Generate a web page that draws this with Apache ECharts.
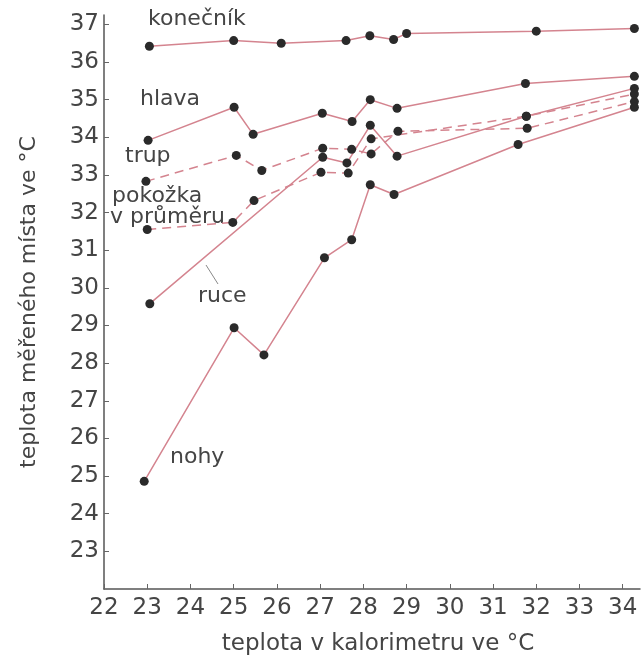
<!DOCTYPE html>
<html>
<head>
<meta charset="utf-8">
<script src="https://cdn.jsdelivr.net/npm/echarts@6/dist/echarts.min.js"></script>
<style>html,body{margin:0;padding:0;background:#fff;}#c{width:643px;height:666px;}</style>
</head>
<body>
<div id="c"></div>
<script>
// Data
const konecnikX = [23.05, 25.0, 26.1, 27.6, 28.15, 28.7, 29.0, 32.0, 34.27];
const konecnikY = [36.42, 36.57, 36.5, 36.57, 36.7, 36.6, 36.76, 36.82, 36.89];

const hlavaX = [23.02, 25.01, 25.45, 27.05, 27.74, 28.16, 28.78, 31.75, 34.27];
const hlavaY = [33.92, 34.8, 34.08, 34.64, 34.42, 35.0, 34.77, 35.43, 35.62];

const trupX = [22.97, 25.06, 25.65, 27.06, 27.73, 28.18, 28.8, 31.79, 34.27];
const trupY = [32.83, 33.52, 33.12, 33.71, 33.68, 33.56, 34.16, 34.24, 34.95];

const pokozkaX = [23.0, 24.98, 25.47, 27.02, 27.65, 28.18, 31.77, 34.27];
const pokozkaY = [31.55, 31.74, 32.32, 33.07, 33.05, 33.96, 34.56, 35.15];

const ruceX = [23.06, 27.06, 27.62, 28.16, 28.78, 31.77, 34.27];
const ruceY = [29.58, 33.47, 33.32, 34.32, 33.5, 34.56, 35.3];

const nohyX = [22.93, 25.01, 25.7, 27.1, 27.73, 28.16, 28.71, 31.58, 34.27];
const nohyY = [24.86, 28.94, 28.22, 30.8, 31.28, 32.74, 32.48, 33.81, 34.8];

const seriesNames = ['konečník', 'hlava', 'trup', 'pokožka v průměru', 'ruce', 'nohy'];
const xTitle = 'teplota v kalorimetru ve °C';
const yTitle = 'teplota měřeného místa ve °C';

const pairs = (xs, ys) => xs.map((x, i) => [x, ys[i]]);
const LINE = '#d4848f';
const DOT = '#2a2a2a';
const TXT = '#454545';
const FONT = 'DejaVu Sans';

function mk(name, xs, ys, dashed) {
  return {
    name: name, type: 'line', data: pairs(xs, ys),
    symbol: 'circle', symbolSize: 9,
    itemStyle: { color: DOT },
    lineStyle: { color: LINE, width: 1.5, type: dashed ? [9, 6] : 'solid' },
    emphasis: { disabled: true }, animation: false
  };
}

const chart = echarts.init(document.getElementById('c'));
chart.setOption({
  animation: false,
  grid: { left: 104, right: 3, top: 15, bottom: 77 },
  xAxis: {
    type: 'value', min: 22, max: 34.4, interval: 1,
    name: xTitle, nameLocation: 'middle', nameGap: 44,
    nameTextStyle: { fontFamily: FONT, fontSize: 23, color: TXT, padding: [0, 0, 0, 12] },
    axisLine: { lineStyle: { color: '#555', width: 1.5 } },
    axisTick: { inside: true, length: 5, lineStyle: { color: '#666' } },
    axisLabel: { fontFamily: FONT, fontSize: 23, color: TXT, margin: 8, showMaxLabel: false },
    splitLine: { show: false }
  },
  yAxis: {
    type: 'value', min: 22, max: 37.25, interval: 1,
    name: yTitle, nameLocation: 'middle', nameGap: 64, nameRotate: 90,
    nameTextStyle: { fontFamily: FONT, fontSize: 22, color: TXT },
    axisLine: { show: true, lineStyle: { color: '#555', width: 1.5 } },
    axisTick: { show: true, inside: true, length: 5, lineStyle: { color: '#666' } },
    axisLabel: { fontFamily: FONT, fontSize: 23, color: TXT, margin: 5, showMinLabel: false, showMaxLabel: false },
    splitLine: { show: false }
  },
  graphic: [
    { type: 'text', left: 148, top: 8, style: { text: seriesNames[0], font: '22px ' + FONT, fill: TXT } },
    { type: 'text', left: 140, top: 88, style: { text: seriesNames[1], font: '22px ' + FONT, fill: TXT } },
    { type: 'text', left: 125, top: 145, style: { text: seriesNames[2], font: '22px ' + FONT, fill: TXT } },
    { type: 'text', left: 112, top: 185, style: { text: 'pokožka', font: '22px ' + FONT, fill: TXT } },
    { type: 'text', left: 110, top: 206, style: { text: 'v průměru', font: '22px ' + FONT, fill: TXT } },
    { type: 'text', left: 198, top: 285, style: { text: seriesNames[4], font: '22px ' + FONT, fill: TXT } },
    { type: 'text', left: 170, top: 446, style: { text: seriesNames[5], font: '22px ' + FONT, fill: TXT } },
    { type: 'line', shape: { x1: 206, y1: 265, x2: 218, y2: 284 }, style: { stroke: '#888', lineWidth: 1 } }
  ],
  series: [
    mk(seriesNames[0], konecnikX, konecnikY, false),
    mk(seriesNames[1], hlavaX, hlavaY, false),
    mk(seriesNames[2], trupX, trupY, true),
    mk(seriesNames[3], pokozkaX, pokozkaY, true),
    mk(seriesNames[4], ruceX, ruceY, false),
    mk(seriesNames[5], nohyX, nohyY, false)
  ]
});
</script>
</body>
</html>
